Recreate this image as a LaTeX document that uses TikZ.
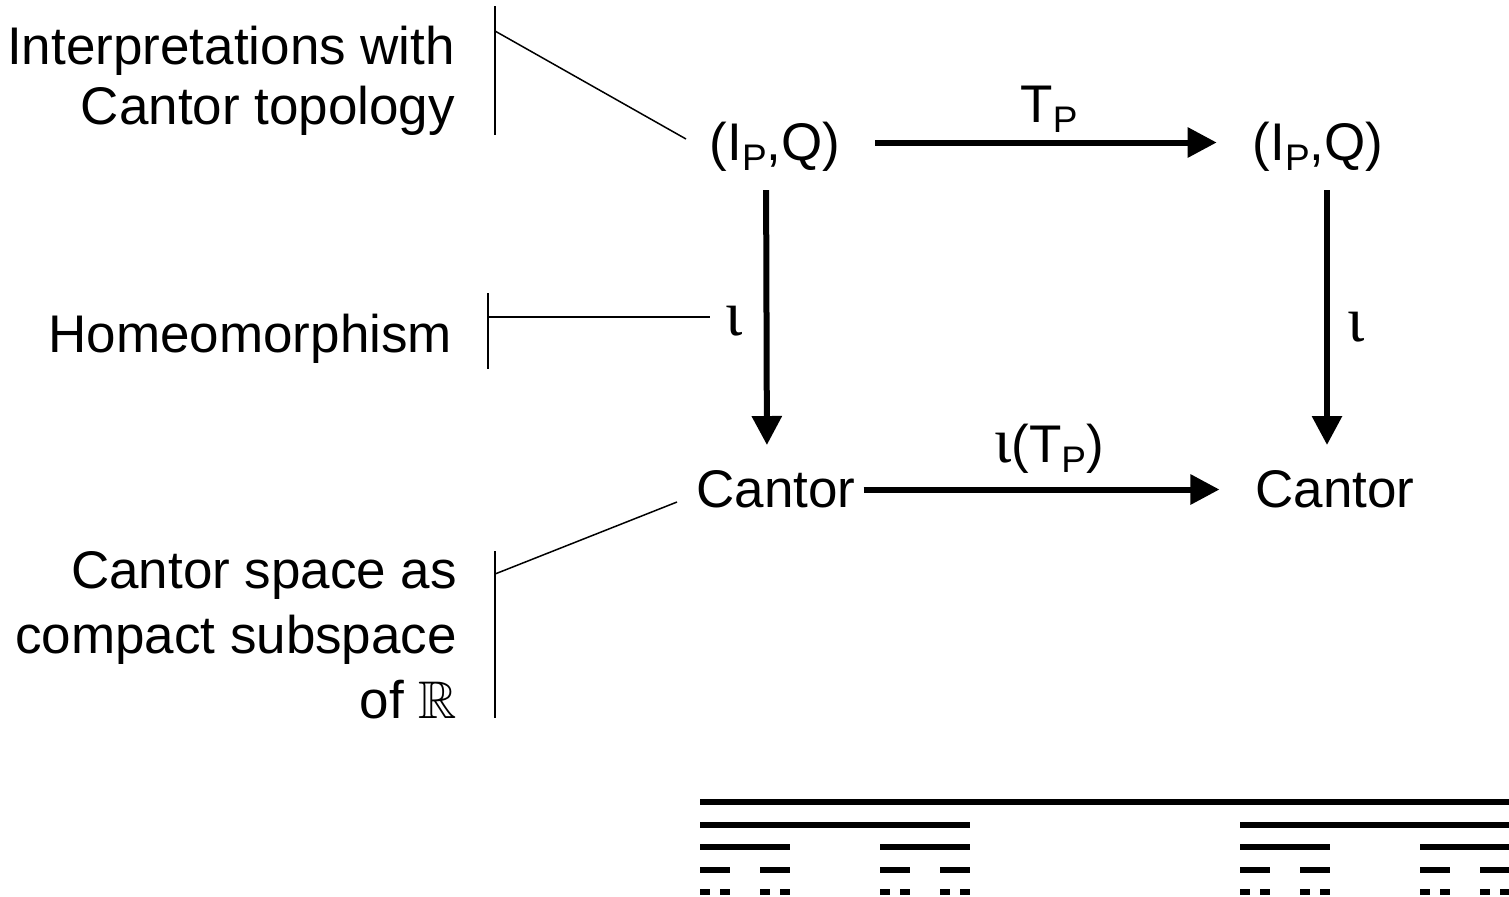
\documentclass[tikz,border=0pt]{standalone}
\usepackage{fontspec}
\usepackage{amssymb}
\setmainfont{Liberation Sans}
\newfontfamily\serifgr{Liberation Serif}
\usetikzlibrary{arrows.meta}
\newcommand{\lowsub}[1]{\raisebox{-5pt}{\fontsize{18.5pt}{20pt}\selectfont #1}}
\newcommand{\iotach}{{\serifgr\fontsize{32pt}{34pt}\selectfont ι}}
\begin{document}
\begin{tikzpicture}[x=0.5pt,y=-0.5pt,
  every node/.style={inner sep=0pt, outer sep=0pt, font=\fontsize{26.5pt}{30pt}\selectfont},
  obj/.style={anchor=base, text height=17.5pt, text depth=0pt},
  lbl/.style={anchor=base},
  note/.style={align=right, anchor=base east},
  arr/.style={line width=3pt, -{Triangle[length=14.5pt,width=14.5pt]}},
  thinline/.style={line width=0.75pt},
  cset/.style={line width=3pt, line cap=butt}]
\useasboundingbox (0,0) rectangle (1509,896);

% main objects
\node[obj] (ipq1) at (775,160) {(I\lowsub{P},Q)};
\node[obj] (ipq2) at (1318,160) {(I\lowsub{P},Q)};
\node[obj] (can1) at (776,507) {Cantor};
\node[obj] (can2) at (1335,507) {Cantor};

% arrows
\draw[arr, shorten <=17.5pt, shorten >=18pt] (ipq1) -- (ipq2);
\draw[arr, shorten <=4pt, shorten >=18pt] (can1) -- (can2);
\draw[arr, shorten <=15pt, shorten >=13.5pt] ([xshift=-4.5pt]ipq1.south) -- ([xshift=-4.5pt]can1.north);
\draw[arr, shorten <=15pt, shorten >=13.5pt] ([xshift=4.5pt]ipq2.south) -- ([xshift=-4pt]can2.north);

% arrow labels
\node[lbl] (tp) at (1049,122) {T\lowsub{P}};
\node[lbl] (itp) at (1049,462) {\iotach(T\lowsub{P})};
\node[lbl] (i1) at (734,335) {\iotach};
\node[lbl] (i2) at (1356,341) {\iotach};

% annotations
\node[note] (n1) at (455,124) {Interpretations with\\Cantor topology};
\node[note] (n2) at (452,352) {Homeomorphism};
\node[note, font=\fontsize{26.5pt}{32.5pt}\selectfont] (n3) at (457,718) {Cantor space as\\compact subspace\\of $\mathbb{R}$};

% brackets
\coordinate (b1t) at (495,6);
\coordinate (b1b) at (495,135);
\coordinate (b1m) at (495,31);
\coordinate (e1) at (686,139);
\draw[thinline] (b1t) -- (b1b);
\draw[thinline] (b1m) -- (e1);

\coordinate (b2t) at (488,293);
\coordinate (b2b) at (488,369);
\coordinate (b2m) at (488,317);
\coordinate (e2) at (710,317);
\draw[thinline] (b2t) -- (b2b);
\draw[thinline] (b2m) -- (e2);

\coordinate (b3t) at (495,551);
\coordinate (b3b) at (495,718);
\coordinate (b3m) at (495,574);
\coordinate (e3) at (677,502);
\draw[thinline] (b3t) -- (b3b);
\draw[thinline] (b3m) -- (e3);

% Cantor set
\draw[cset] (700,802) -- (1510,802);
\foreach \s in {700,1240} \draw[cset] (\s,825) -- ++(270,0);
\foreach \s in {700,880,1240,1420} \draw[cset] (\s,847) -- ++(90,0);
\foreach \s in {700,760,880,940,1240,1300,1420,1480} \draw[cset] (\s,869.5) -- ++(30,0);
\foreach \s in {700,720,760,780,880,900,940,960,1240,1260,1300,1320,1420,1440,1480,1500} \draw[cset] (\s,892) -- ++(10,0);
\end{tikzpicture}
\end{document}
